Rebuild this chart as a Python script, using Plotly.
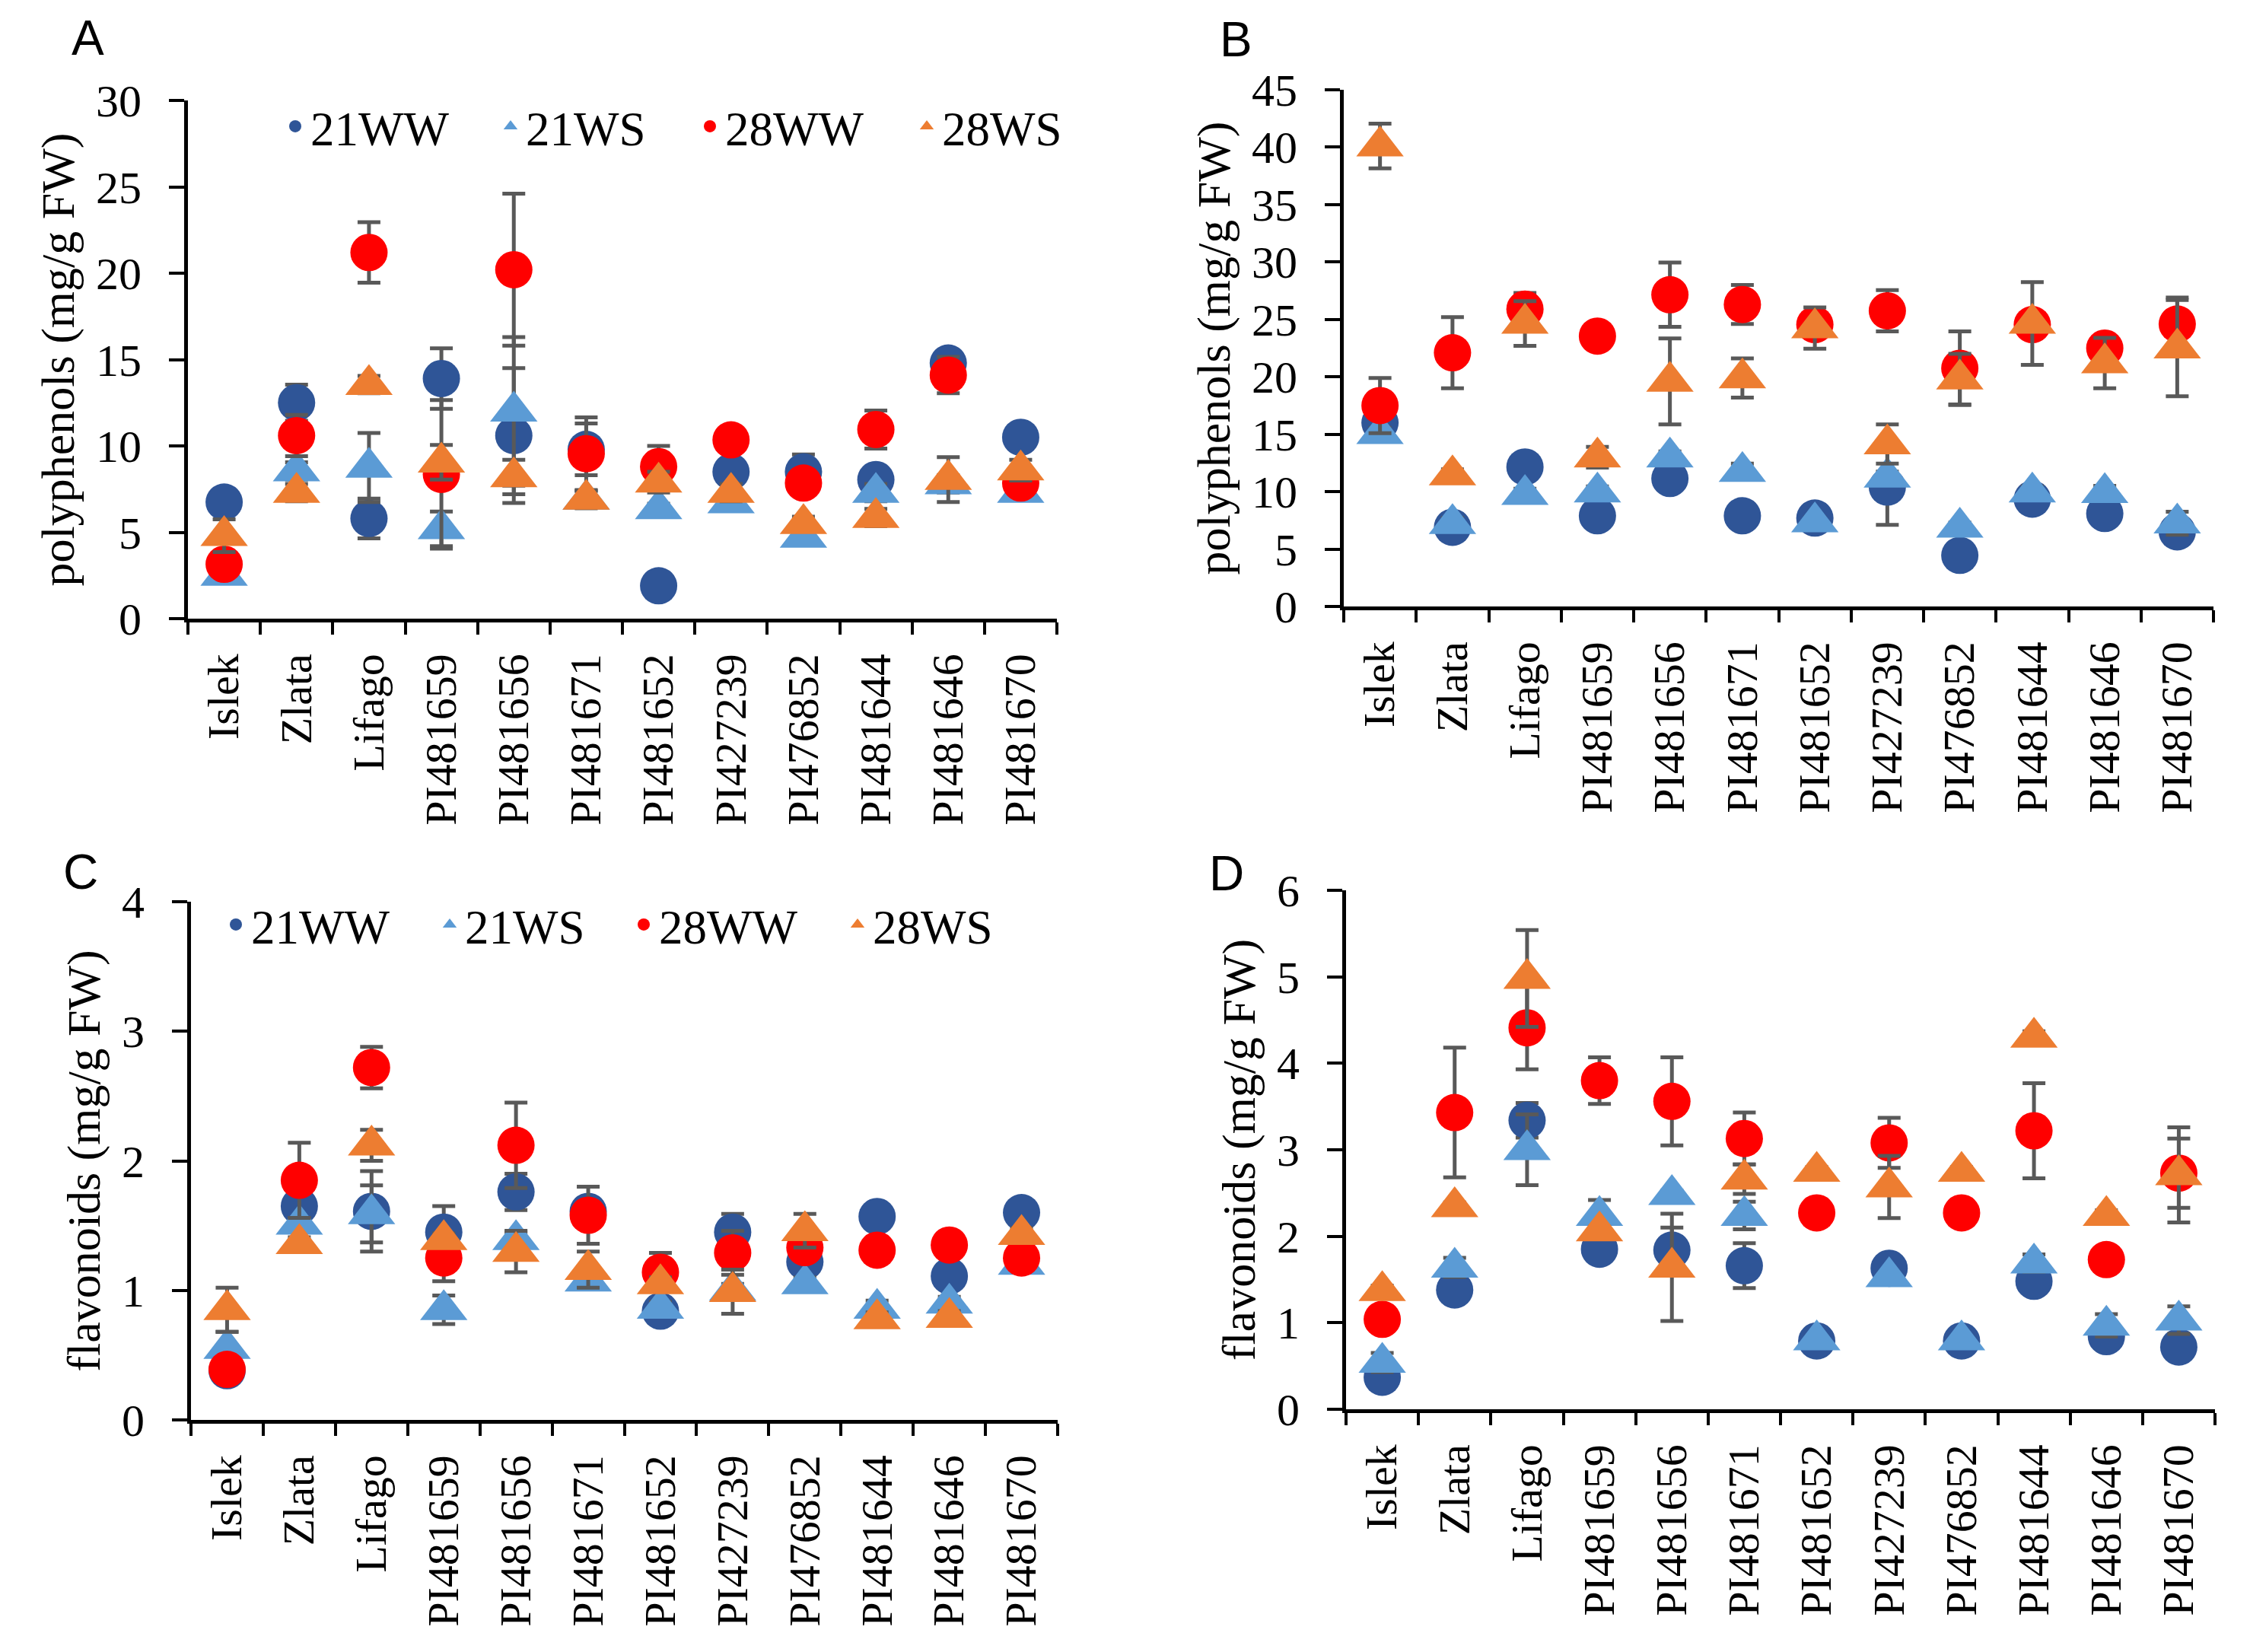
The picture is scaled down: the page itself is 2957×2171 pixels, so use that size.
import plotly.graph_objects as go

categories = ["Islek", "Zlata", "Lifago", "PI481659", "PI481656", "PI481671",
              "PI481652", "PI427239", "PI476852", "PI481644", "PI481646", "PI481670"]
series_names = ["21WW", "21WS", "28WW", "28WS"]

# Panel A: polyphenols (mg/g FW)
a_21ww = [6.75, 12.5, 5.8, 13.9, 10.6, 9.8, 1.9, 8.5, 8.5, 8.05, 14.8, 10.5]
a_21ws = [2.5, 8.55, 8.75, 5.2, 12.0, 6.9, 6.35, 6.7, 4.7, 7.3, 7.8, 7.3]
a_28ww = [3.15, 10.6, 21.2, 8.35, 20.2, 9.55, 8.8, 10.35, 7.85, 10.95, 14.1, 7.85]
a_28ws = [4.8, 7.3, 13.55, 9.05, 8.2, 6.9, 7.9, 7.3, 5.5, 5.85, 8.05, 8.6]
a_21ww_err = [0.6, 1.05, 1.15, 1.75, 3.9, 1.5, 0.3, 0.5, 1.0, 0.5, 0.6, 0.5]
a_21ws_err = [0.3, 0.5, 2.0, 1.0, 4.3, 0.5, 0.3, 0.3, 0.4, 0.5, 0.5, 0.3]
a_28ww_err = [0.5, 1.2, 1.75, 4.3, 4.4, 2.1, 1.2, 0.6, 0.6, 1.1, 1.05, 0.6]
a_28ws_err = [0.95, 0.5, 0.5, 1.0, 1.0, 0.5, 0.6, 0.5, 0.4, 0.5, 1.3, 0.6]

# Panel B: polyphenols (mg/g FW)
b_21ww = [16.0, 6.9, 12.15, 7.9, 11.15, 7.9, 7.7, 10.4, 4.45, 9.35, 8.1, 6.5]
b_21ws = [15.05, 7.2, 9.75, 9.95, 13.0, 11.75, 7.35, 11.25, 6.9, 9.95, 9.9, 7.25]
b_28ww = [17.5, 22.1, 25.9, 23.55, 27.15, 26.3, 24.55, 25.75, 20.75, 24.55, 22.5, 24.6]
b_28ws = [40.1, 11.45, 24.65, 13.0, 19.6, 19.9, 24.25, 14.15, 19.8, 24.65, 21.2, 22.5]
b_21ww_err = [0.5, 0.5, 0.6, 0.5, 1.0, 0.5, 0.5, 3.3, 0.5, 0.6, 0.6, 0.5]
b_21ws_err = [0.5, 0.5, 0.5, 0.5, 0.5, 0.7, 0.4, 0.5, 0.4, 0.5, 0.6, 1.0]
b_28ww_err = [2.4, 3.1, 1.4, 0.5, 2.8, 1.7, 0.8, 1.8, 3.2, 1.0, 0.8, 2.3]
b_28ws_err = [1.95, 0.5, 1.95, 0.9, 3.75, 1.7, 1.8, 1.7, 2.2, 3.6, 2.2, 4.2]

# Panel C: flavonoids (mg/g FW)
c_21ww = [0.38, 1.65, 1.61, 1.45, 1.76, 1.61, 0.84, 1.45, 1.22, 1.57, 1.11, 1.6]
c_21ws = [0.55, 1.51, 1.59, 0.85, 1.39, 1.07, 0.86, 1.0, 1.05, 0.86, 0.9, 1.2]
c_28ww = [0.39, 1.85, 2.72, 1.25, 2.12, 1.58, 1.14, 1.29, 1.33, 1.31, 1.35, 1.25]
c_28ws = [0.85, 1.36, 2.12, 1.39, 1.3, 1.16, 1.05, 0.99, 1.46, 0.78, 0.79, 1.43]
c_21ww_err = [0.03, 0.05, 0.31, 0.2, 0.14, 0.05, 0.05, 0.14, 0.05, 0.05, 0.05, 0.05]
c_21ws_err = [0.13, 0.05, 0.22, 0.11, 0.06, 0.05, 0.05, 0.05, 0.05, 0.06, 0.05, 0.05]
c_28ww_err = [0.05, 0.29, 0.16, 0.18, 0.33, 0.22, 0.15, 0.17, 0.05, 0.05, 0.05, 0.05]
c_28ws_err = [0.17, 0.05, 0.12, 0.05, 0.16, 0.14, 0.05, 0.17, 0.13, 0.05, 0.05, 0.05]

# Panel D: flavonoids (mg/g FW)
d_21ww = [0.37, 1.38, 3.34, 1.85, 1.84, 1.66, 0.79, 1.63, 0.79, 1.48, 0.84, 0.72]
d_21ws = [0.54, 1.64, 3.0, 2.24, 2.48, 2.24, 0.8, 1.53, 0.8, 1.69, 0.97, 1.03]
d_28ww = [1.04, 3.43, 4.41, 3.8, 3.56, 3.13, 2.27, 3.08, 2.27, 3.22, 1.73, 2.73]
d_28ws = [1.37, 2.34, 4.98, 2.06, 1.64, 2.66, 2.75, 2.57, 2.75, 4.3, 2.24, 2.71]
d_21ww_err = [0.05, 0.05, 0.2, 0.05, 0.26, 0.26, 0.05, 0.05, 0.05, 0.05, 0.05, 0.05]
d_21ws_err = [0.11, 0.11, 0.41, 0.18, 0.05, 0.16, 0.05, 0.05, 0.05, 0.1, 0.13, 0.16]
d_28ww_err = [0.05, 0.75, 0.48, 0.27, 0.51, 0.3, 0.05, 0.29, 0.05, 0.55, 0.05, 0.4]
d_28ws_err = [0.06, 0.05, 0.56, 0.05, 0.62, 0.17, 0.05, 0.36, 0.05, 0.07, 0.06, 0.55]

colors = ["#2F5597", "#5B9BD5", "#FF0000", "#ED7D31"]
symbols = ["circle", "triangle-up", "circle", "triangle-up"]
sizes = [49, 54, 49, 54]

W, H = 2957, 2171
OFF = 8  # page body margin
SERIF = "Liberation Serif"
ERR_COLOR = "#595959"


def px_x(v):
    return (v - OFF) / W


def px_y(v):
    return 1 - (v - OFF) / H


panels = [
    dict(name="A", vals=[a_21ww, a_21ws, a_28ww, a_28ws],
         errs=[a_21ww_err, a_21ws_err, a_28ww_err, a_28ws_err],
         xpx=(247, 1389), ypx=(813, 132),
         yrange=[0, 30], dtick=5, title="polyphenols (mg/g FW)", legend="legend",
         letter=(115, 50)),
    dict(name="B", vals=[b_21ww, b_21ws, b_28ww, b_28ws],
         errs=[b_21ww_err, b_21ws_err, b_28ww_err, b_28ws_err],
         xpx=(1766, 2909), ypx=(797, 118),
         yrange=[0, 45], dtick=5, title="polyphenols (mg/g FW)", legend=None,
         letter=(1624, 52)),
    dict(name="C", vals=[c_21ww, c_21ws, c_28ww, c_28ws],
         errs=[c_21ww_err, c_21ws_err, c_28ww_err, c_28ws_err],
         xpx=(251, 1390), ypx=(1866, 1185),
         yrange=[0, 4], dtick=1, title="flavonoids (mg/g FW)", legend="legend2",
         letter=(106, 1146)),
    dict(name="D", vals=[d_21ww, d_21ws, d_28ww, d_28ws],
         errs=[d_21ww_err, d_21ws_err, d_28ww_err, d_28ws_err],
         xpx=(1769, 2911), ypx=(1852, 1170),
         yrange=[0, 6], dtick=1, title="flavonoids (mg/g FW)", legend=None,
         letter=(1612, 1148)),
]

legend_widths = {"legend": [238, 217, 240, 180], "legend2": [236, 210, 236, 180]}

fig = go.Figure()

for i, p in enumerate(panels):
    sfx = "" if i == 0 else str(i + 1)
    for k in range(4):
        tr = dict(
            x=categories, y=p["vals"][k], name=series_names[k], mode="markers",
            marker=dict(color=colors[k], symbol=symbols[k], size=sizes[k], line=dict(width=0)),
            error_y=dict(type="data", array=p["errs"][k], visible=True,
                         color=ERR_COLOR, thickness=5, width=15),
            xaxis="x" + sfx, yaxis="y" + sfx,
            showlegend=p["legend"] is not None,
        )
        if p["legend"] is not None:
            tr["legend"] = p["legend"]
            tr["legendwidth"] = legend_widths[p["legend"]][k]
        fig.add_trace(go.Scatter(**tr))

    fig.update_layout(**{
        "xaxis" + sfx: dict(
            domain=[px_x(p["xpx"][0]), px_x(p["xpx"][1])], anchor="y" + sfx,
            type="category", categoryorder="array", categoryarray=categories,
            range=[-0.5, 11.5], tickson="boundaries", ticks="outside",
            ticklen=16, tickwidth=4, tickcolor="black",
            showline=True, linewidth=5, linecolor="black", showgrid=False,
            tickangle=-90, tickfont=dict(family=SERIF, size=58, color="black"),
            ticklabelstandoff=18, automargin=False,
        ),
        "yaxis" + sfx: dict(
            domain=[px_y(p["ypx"][0]), px_y(p["ypx"][1])], anchor="x" + sfx,
            range=p["yrange"], dtick=p["dtick"], tick0=0,
            ticks="outside", ticklen=20, tickwidth=4, tickcolor="black",
            showline=True, linewidth=5, linecolor="black", showgrid=False,
            zeroline=False, tickfont=dict(family=SERIF, size=60, color="black"),
            ticklabelstandoff=24, automargin=False,
            title=dict(text=p["title"], font=dict(family=SERIF, size=62, color="black"),
                       standoff=10),
        ),
    })
    fig.add_annotation(
        x=px_x(p["letter"][0]), y=px_y(p["letter"][1]), xref="paper", yref="paper",
        text=p["name"], showarrow=False, xanchor="center", yanchor="middle",
        font=dict(family="Liberation Sans", size=64, color="black"),
    )

legend_style = dict(orientation="h", xanchor="left", yanchor="middle",
                    font=dict(family=SERIF, size=63, color="black"),
                    bgcolor="rgba(0,0,0,0)", itemwidth=30, tracegroupgap=0)

fig.update_layout(
    width=W, height=H,
    margin=dict(l=0, r=0, t=0, b=0, pad=0, autoexpand=False),
    paper_bgcolor="white", plot_bgcolor="white",
    legend=dict(x=px_x(368), y=px_y(166), **legend_style),
    legend2=dict(x=px_x(290), y=px_y(1215), **legend_style),
)

fig.write_html("out.html")
